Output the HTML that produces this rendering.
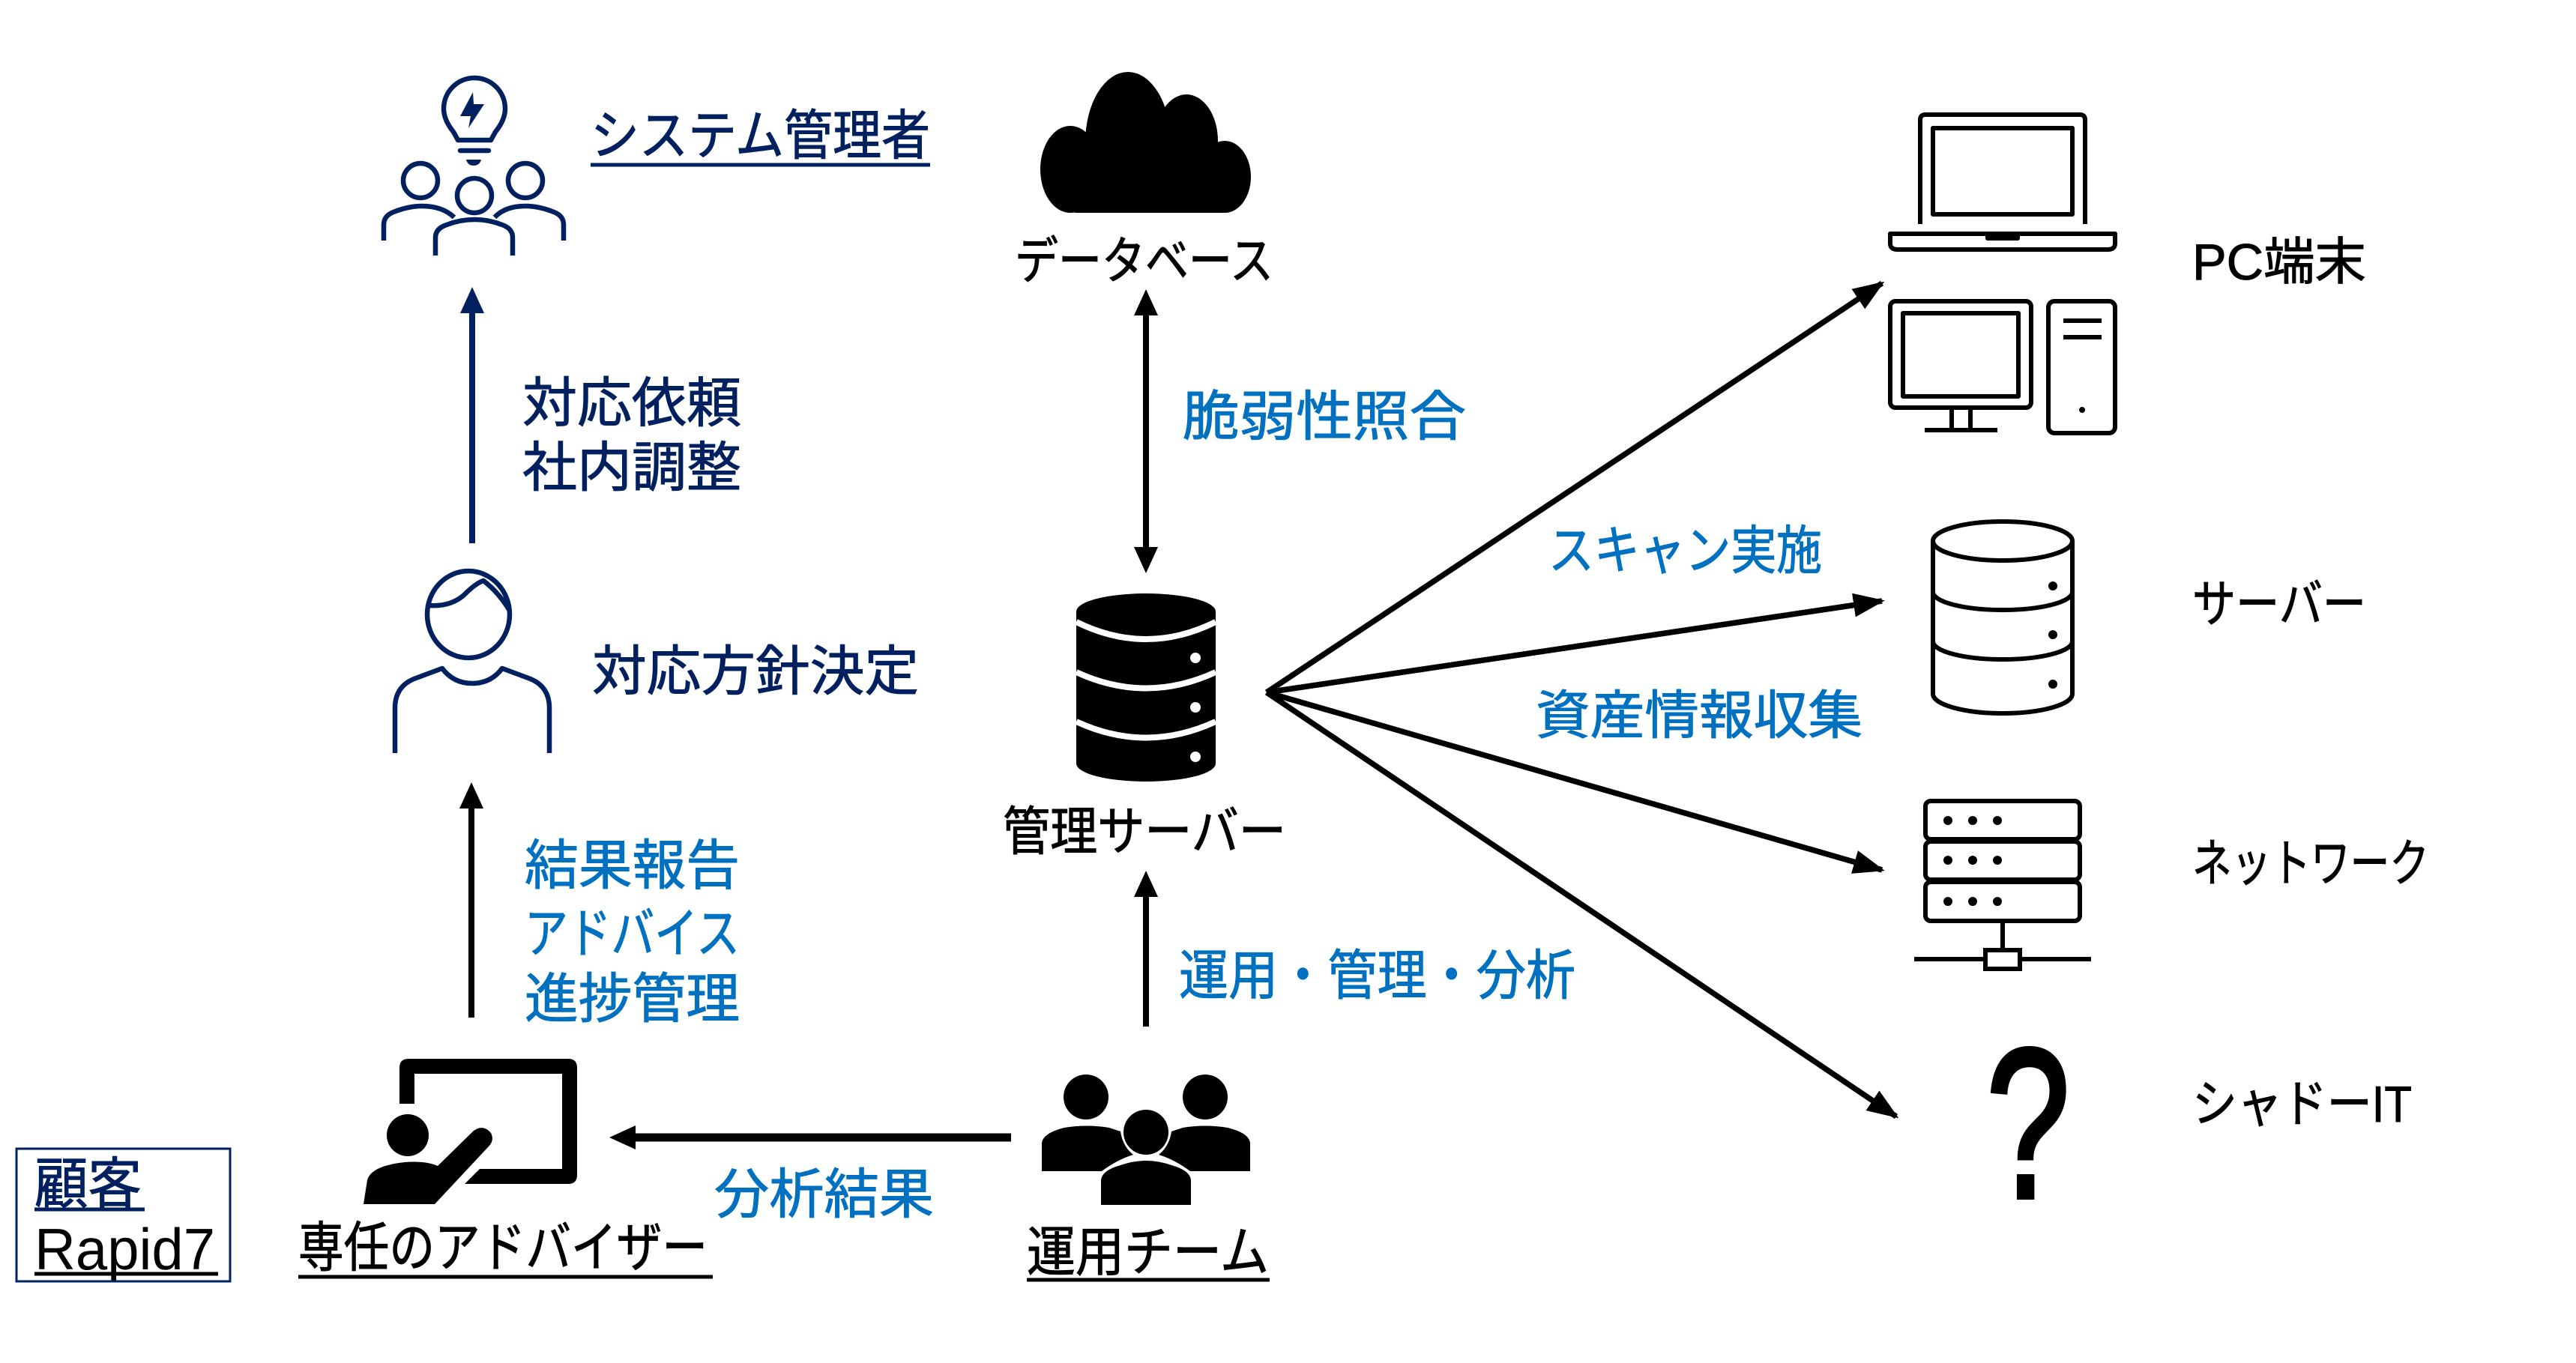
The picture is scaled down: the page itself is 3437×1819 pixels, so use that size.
<!DOCTYPE html>
<html><head><meta charset="utf-8"><style>
html,body{margin:0;padding:0;background:#fff;}
svg{display:block;}
text{font-family:"Liberation Sans","Noto Sans CJK JP",sans-serif;}
</style></head><body>
<svg width="3437" height="1819" viewBox="0 0 3437 1819" xmlns="http://www.w3.org/2000/svg">
<defs>
<marker id="ah" markerUnits="userSpaceOnUse" markerWidth="46" markerHeight="34" refX="38" refY="16" orient="auto"><path d="M0,0 L42,16 L0,32 Z" fill="#000"/></marker>
</defs>
<rect width="3437" height="1819" fill="#fff"/>

<!-- lightbulb people icon -->
<g fill="none" stroke="#002060" stroke-width="6.5" stroke-linecap="butt">
<path d="M611,187 L605,176 Q592,160 592,145 A41,41 0 1 1 674,145 Q674,160 661,176 L655,187 Z" stroke-linejoin="round"/>
<line x1="614" y1="201" x2="652" y2="201" stroke-linecap="round"/>
<circle cx="561" cy="241" r="23"/>
<circle cx="633" cy="261" r="23"/>
<circle cx="701" cy="241" r="23"/>
<path d="M512,321 L512,300 Q512,288 525,283 Q545,275 563,275 Q590,275 606,290"/>
<path d="M752,321 L752,300 Q752,288 739,283 Q719,275 701,275 Q674,275 660,290"/>
<path d="M581,341 L581,317 Q581,305 596,300 Q614,293 633,293 Q652,293 670,300 Q684,305 684,317 L684,341"/>
</g>
<path d="M622,213 L642,213 Q640,221 632,221 Q624,221 622,213 Z" fill="#002060"/>
<path d="M631,123 L614,155 L628,155 L625,171 L646,139 L632,139 Z" fill="#002060"/>

<!-- person icon -->
<g fill="none" stroke="#002060" stroke-width="6.5" stroke-linejoin="round">
<ellipse cx="625" cy="820" rx="55" ry="58"/>
<path d="M572,808 Q600,810 618,795 Q635,778 645,775 Q665,790 680,815"/>
<path d="M527,1005 L527,945 Q527,915 555,905 L590,892 Q605,912 630,912 Q655,912 670,892 L705,905 Q733,915 733,945 L733,1005"/>
</g>

<!-- cloud -->
<g fill="#000">
<ellipse cx="1505" cy="190" rx="57" ry="94"/>
<ellipse cx="1428" cy="226" rx="40" ry="58"/>
<ellipse cx="1583" cy="188" rx="42" ry="62"/>
<ellipse cx="1634" cy="236" rx="35" ry="48"/>
<rect x="1428" y="230" width="210" height="54" rx="8"/>
</g>

<!-- DB server black -->
<g>
<path d="M1436,816 A93,24 0 0 1 1622,816 L1622,1019 A93,24 0 0 1 1436,1019 Z" fill="#000"/>
<path d="M1436,830 Q1529,876 1622,830" fill="none" stroke="#fff" stroke-width="8"/>
<path d="M1436,897 Q1529,940 1622,897" fill="none" stroke="#fff" stroke-width="8"/>
<path d="M1436,963 Q1529,1006 1622,963" fill="none" stroke="#fff" stroke-width="8"/>
<circle cx="1595" cy="878" r="7" fill="#fff"/>
<circle cx="1595" cy="944" r="7" fill="#fff"/>
<circle cx="1595" cy="1010" r="7" fill="#fff"/>
</g>

<!-- presenter -->
<g fill="#000">
<path d="M533,1473 L533,1425 Q533,1413 545,1413 L758,1413 Q770,1413 770,1425 L770,1568 Q770,1580 758,1580 L620,1580 L640,1560 L750,1560 L750,1433 L553,1433 L553,1473 Z"/>
<circle cx="544" cy="1515" r="28"/>
<path d="M485,1607 L490,1575 Q495,1556 540,1551 Q568,1549 584,1556 L632,1509 Q645,1500 655,1512 Q660,1522 652,1530 L580,1607 Z"/>
</g>

<!-- team -->
<g fill="#000">
<circle cx="1449" cy="1464" r="30"/>
<circle cx="1608" cy="1464" r="30"/>
<path d="M1390,1563 L1390,1525 Q1392,1512 1420,1505 Q1450,1500 1480,1505 L1495,1510 Q1498,1530 1512,1541 Q1490,1548 1470,1563 Z"/>
<path d="M1668,1563 L1668,1525 Q1666,1512 1638,1505 Q1608,1500 1578,1505 L1563,1510 Q1560,1530 1546,1541 Q1568,1548 1588,1563 Z"/>
<circle cx="1529" cy="1511" r="30"/>
<path d="M1469,1608 L1469,1575 Q1470,1562 1495,1555 Q1512,1549 1529,1549 Q1546,1549 1563,1555 Q1588,1562 1589,1575 L1589,1608 Z"/>
</g>

<!-- laptop -->
<g fill="none" stroke="#000" stroke-width="6" stroke-linejoin="round">
<path d="M2562,299 L2562,160 Q2562,153 2569,153 L2775,153 Q2782,153 2782,160 L2782,299"/>
<rect x="2579" y="171" width="186" height="115"/>
<path d="M2522,312 L2822,312 L2822,325 Q2822,333 2812,333 L2532,333 Q2522,333 2522,325 Z"/>
<path d="M2652,312 L2652,318 L2692,318 L2692,312"/>
<!-- desktop -->
<rect x="2522" y="402" width="188" height="142" rx="7"/>
<rect x="2539" y="418" width="154" height="111"/>
<path d="M2604,544 L2604,574 M2629,544 L2629,574 M2568,574 L2665,574"/>
<rect x="2733" y="402" width="89" height="176" rx="8"/>
<path d="M2753,428 L2804,428 M2753,450 L2804,450"/>
</g>
<circle cx="2778" cy="547" r="4" fill="#000"/>

<!-- server cylinder outline -->
<g fill="none" stroke="#000" stroke-width="6">
<ellipse cx="2672" cy="722" rx="93" ry="26"/>
<path d="M2579,722 L2579,926 A93,26 0 0 0 2765,926 L2765,722"/>
<path d="M2579,790 A93,24 0 0 0 2765,790"/>
<path d="M2579,856 A93,24 0 0 0 2765,856"/>
</g>
<circle cx="2739" cy="782" r="6" fill="#000"/>
<circle cx="2739" cy="847" r="6" fill="#000"/>
<circle cx="2739" cy="913" r="6" fill="#000"/>

<!-- network rack -->
<g fill="none" stroke="#000" stroke-width="6">
<rect x="2569" y="1069" width="206" height="51" rx="7"/>
<rect x="2569" y="1123" width="206" height="51" rx="7"/>
<rect x="2569" y="1177" width="206" height="52" rx="7"/>
<path d="M2672,1229 L2672,1268 M2554,1280 L2649,1280 M2695,1280 L2790,1280"/>
<rect x="2649" y="1268" width="46" height="25"/>
</g>
<g fill="#000">
<circle cx="2599" cy="1095" r="6"/><circle cx="2632" cy="1095" r="6"/><circle cx="2665" cy="1095" r="6"/>
<circle cx="2599" cy="1148" r="6"/><circle cx="2632" cy="1148" r="6"/><circle cx="2665" cy="1148" r="6"/>
<circle cx="2599" cy="1203" r="6"/><circle cx="2632" cy="1203" r="6"/><circle cx="2665" cy="1203" r="6"/>
</g>
<text x="2650" y="1598" font-size="285" textLength="112" lengthAdjust="spacingAndGlyphs" fill="#000" stroke="#000" stroke-width="6">?</text>

<!-- arrows -->
<g stroke="#000" stroke-width="7.5" fill="none">
<line x1="1690" y1="924" x2="2511" y2="378" marker-end="url(#ah)"/>
<line x1="1690" y1="924" x2="2511" y2="802" marker-end="url(#ah)"/>
<line x1="1690" y1="924" x2="2511" y2="1161" marker-end="url(#ah)"/>
<line x1="1690" y1="924" x2="2530" y2="1490" marker-end="url(#ah)"/>
</g>
<line x1="630" y1="725" x2="630" y2="410" stroke="#002060" stroke-width="8"/>
<path d="M630,383 L646,418 L614,418 Z" fill="#002060"/>
<line x1="629" y1="1358" x2="629" y2="1070" stroke="#000" stroke-width="8"/>
<path d="M629,1044 L645,1079 L613,1079 Z" fill="#000"/>
<line x1="1529" y1="1370" x2="1529" y2="1190" stroke="#000" stroke-width="8"/>
<path d="M1529,1162 L1545,1197 L1513,1197 Z" fill="#000"/>
<line x1="1529" y1="410" x2="1529" y2="740" stroke="#000" stroke-width="8"/>
<path d="M1529,386 L1545,421 L1513,421 Z" fill="#000"/>
<path d="M1529,765 L1545,730 L1513,730 Z" fill="#000"/>
<line x1="1349" y1="1518" x2="840" y2="1518" stroke="#000" stroke-width="11"/>
<path d="M813,1518 L848,1502 L848,1534 Z" fill="#000"/>

<!-- labels -->
<g dominant-baseline="central" stroke-width="1">
<text x="788" y="182" font-size="72" textLength="453" lengthAdjust="spacingAndGlyphs" fill="#002060" stroke="#002060">システム管理者</text>
<text x="1354" y="349" font-size="68" textLength="345" lengthAdjust="spacingAndGlyphs" fill="#000" stroke="#000">データベース</text>
<text x="697" y="539" font-size="72" textLength="292" lengthAdjust="spacingAndGlyphs" fill="#002060" stroke="#002060">対応依頼</text>
<text x="697" y="625" font-size="72" textLength="292" lengthAdjust="spacingAndGlyphs" fill="#002060" stroke="#002060">社内調整</text>
<text x="1578" y="557" font-size="72" textLength="378" lengthAdjust="spacingAndGlyphs" fill="#0070C0" stroke="#0070C0">脆弱性照合</text>
<text x="790" y="897" font-size="72" textLength="436" lengthAdjust="spacingAndGlyphs" fill="#002060" stroke="#002060">対応方針決定</text>
<text x="2066" y="735" font-size="70" textLength="365" lengthAdjust="spacingAndGlyphs" fill="#0070C0" stroke="#0070C0">スキャン実施</text>
<text x="2049" y="955" font-size="70" textLength="436" lengthAdjust="spacingAndGlyphs" fill="#0070C0" stroke="#0070C0">資産情報収集</text>
<text x="1338" y="1110" font-size="70" textLength="378" lengthAdjust="spacingAndGlyphs" fill="#000" stroke="#000">管理サーバー</text>
<text x="700" y="1156" font-size="72" textLength="287" lengthAdjust="spacingAndGlyphs" fill="#0070C0" stroke="#0070C0">結果報告</text>
<text x="700" y="1247" font-size="72" textLength="287" lengthAdjust="spacingAndGlyphs" fill="#0070C0" stroke="#0070C0">アドバイス</text>
<text x="700" y="1334" font-size="72" textLength="287" lengthAdjust="spacingAndGlyphs" fill="#0070C0" stroke="#0070C0">進捗管理</text>
<text x="1573" y="1303" font-size="72" textLength="529" lengthAdjust="spacingAndGlyphs" fill="#0070C0" stroke="#0070C0">運用・管理・分析</text>
<text x="953" y="1595" font-size="72" textLength="293" lengthAdjust="spacingAndGlyphs" fill="#0070C0" stroke="#0070C0">分析結果</text>
<text x="398" y="1666" font-size="72" textLength="546" lengthAdjust="spacingAndGlyphs" fill="#000" stroke="#000">専任のアドバイザー</text>
<text x="1370" y="1672" font-size="72" textLength="323" lengthAdjust="spacingAndGlyphs" fill="#000" stroke="#000">運用チーム</text>
<text x="2925" y="350" font-size="68" textLength="232" lengthAdjust="spacingAndGlyphs" fill="#000" stroke="#000">PC端末</text>
<text x="2925" y="807" font-size="68" textLength="232" lengthAdjust="spacingAndGlyphs" fill="#000" stroke="#000">サーバー</text>
<text x="2925" y="1153" font-size="68" textLength="316" lengthAdjust="spacingAndGlyphs" fill="#000" stroke="#000">ネットワーク</text>
<text x="2925" y="1474" font-size="68" textLength="293" lengthAdjust="spacingAndGlyphs" fill="#000" stroke="#000">シャドーIT</text>
<text x="46" y="1580" font-size="74" textLength="143" lengthAdjust="spacingAndGlyphs" fill="#002060" stroke="#002060">顧客</text>
</g>
<text x="46" y="1694" font-size="78" textLength="241" lengthAdjust="spacingAndGlyphs" fill="#000">Rapid7</text>

<!-- underlines -->
<g stroke-width="5">
<line x1="788" y1="220" x2="1241" y2="220" stroke="#002060"/>
<line x1="398" y1="1704" x2="951" y2="1704" stroke="#000"/>
<line x1="1370" y1="1708" x2="1694" y2="1708" stroke="#000"/>
<line x1="46" y1="1614" x2="193" y2="1614" stroke="#002060"/>
<line x1="46" y1="1700" x2="291" y2="1700" stroke="#000"/>
</g>
<rect x="22" y="1533" width="285" height="177" fill="none" stroke="#002060" stroke-width="3"/>
</svg>
</body></html>
